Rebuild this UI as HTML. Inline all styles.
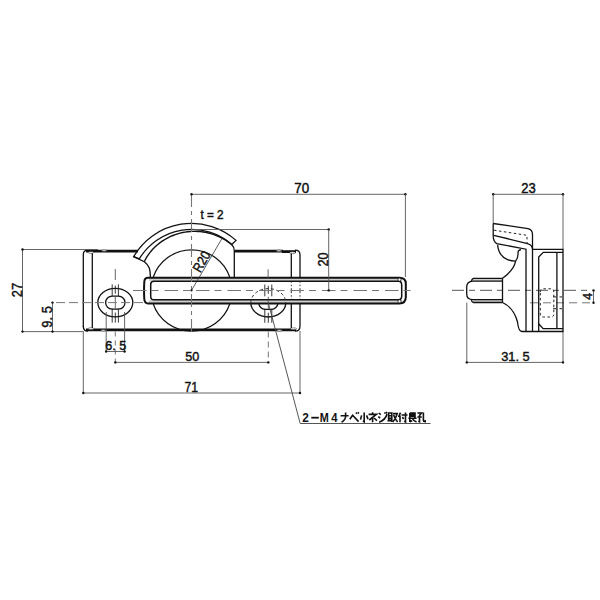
<!DOCTYPE html>
<html><head><meta charset="utf-8"><style>html,body{margin:0;padding:0;background:#fff;width:600px;height:600px;overflow:hidden}svg{display:block}</style></head>
<body><svg width="600" height="600" viewBox="0 0 600 600">
<rect width="600" height="600" fill="#fff"/>
<path d="M83.3,327 V254.5 Q83.3,250.2 88,250.2" stroke="#111" stroke-width="1.3" fill="none"/>
<line x1="86" y1="251.1" x2="137.8" y2="251.1" stroke="#111" stroke-width="2.8" fill="none"/>
<line x1="234.3" y1="251.2" x2="283" y2="251.2" stroke="#111" stroke-width="2.8" fill="none"/>
<line x1="282" y1="251.6" x2="296" y2="251.6" stroke="#111" stroke-width="2.8" fill="none"/>
<path d="M295,250.2 Q300,250.2 300,255 V277.7" stroke="#111" stroke-width="1.3" fill="none"/>
<path d="M83.3,326 Q83.3,331.2 88,331.2" stroke="#111" stroke-width="1.3" fill="none"/>
<line x1="86" y1="329.9" x2="296" y2="329.9" stroke="#111" stroke-width="2.8" fill="none"/>
<path d="M295,331.2 Q300,331.2 300,326 V303.4" stroke="#111" stroke-width="1.3" fill="none"/>
<line x1="92.3" y1="252.5" x2="92.3" y2="328.5" stroke="#111" stroke-width="1.3" fill="none"/>
<line x1="291.3" y1="252.5" x2="291.3" y2="277.7" stroke="#111" stroke-width="1.3" fill="none"/>
<line x1="291.3" y1="303.4" x2="291.3" y2="328.5" stroke="#111" stroke-width="1.3" fill="none"/>
<line x1="300" y1="277.7" x2="300" y2="303.4" stroke="#333" stroke-width="1" stroke-dasharray="5 2 1.5 2"/>
<line x1="291.3" y1="277.7" x2="291.3" y2="303.4" stroke="#333" stroke-width="1" stroke-dasharray="5 2 1.5 2"/>
<ellipse cx="104.2" cy="250.8" rx="2.8" ry="0.8" fill="#fff" stroke="#111" stroke-width="0.5"/>
<ellipse cx="91" cy="252.4" rx="2.9" ry="0.95" fill="#fff" stroke="#111" stroke-width="0.5"/>
<ellipse cx="103.3" cy="330.2" rx="2.6" ry="0.8" fill="#fff" stroke="#111" stroke-width="0.5"/>
<ellipse cx="91" cy="328.7" rx="2.9" ry="0.95" fill="#fff" stroke="#111" stroke-width="0.5"/>
<ellipse cx="279" cy="250.9" rx="3" ry="0.8" fill="#fff" stroke="#111" stroke-width="0.5"/>
<ellipse cx="292.5" cy="252.7" rx="3" ry="0.95" fill="#fff" stroke="#111" stroke-width="0.5"/>
<ellipse cx="279.3" cy="330.3" rx="3" ry="0.8" fill="#fff" stroke="#111" stroke-width="0.5"/>
<ellipse cx="293.5" cy="328.8" rx="3.2" ry="0.95" fill="#fff" stroke="#111" stroke-width="0.5"/>
<path d="M133.65,256.6 A67,67 0 0 1 236.07,240.38 L231.68,244.5 A61,61 0 0 0 139.27,258.89 Z" stroke="#111" stroke-width="1.3" fill="none"/>
<path d="M144.33,261.72 L145.38,259.53 L146.58,257.41 L147.91,255.36 L149.33,253.37 L150.86,251.44 L152.47,249.58 L154.18,247.8 L155.97,246.08 L157.84,244.45 L159.79,242.9 L161.81,241.43 L163.9,240.05 L166.06,238.77 L168.27,237.58 L170.55,236.48 L172.87,235.49 L175.24,234.59 L177.66,233.81 L180.11,233.12 L182.6,232.55 L185.11,232.09 L187.65,231.73 L190.21,231.49 L192.78,231.36 L195.36,231.34 L197.94,231.44 L200.52,231.65 L203.1,231.98 L205.66,232.42 L208.21,232.97 L210.74,233.64 L213.24,234.42 L215.7,235.31 L218.13,236.31 L220.52,237.42 L222.87,238.63 L225.16,239.95 L227.39,241.37 L229.57,242.89 L231.68,244.5" stroke="#111" stroke-width="1.4" fill="none"/>
<path d="M133.65,256.6 L144.33,261.72 Q148.2,264.6 149.4,268.2 Q150.4,271.5 150.4,277.7" stroke="#111" stroke-width="1.3" fill="none"/>
<path d="M231.68,244.5 Q234.3,247 234.3,251 V277.7" stroke="#111" stroke-width="1.3" fill="none"/>
<path d="M153.04,277.7 A40.5,40.5 0 0 1 229.96,277.7" stroke="#111" stroke-width="1.3" fill="none"/>
<path d="M153.04,303.4 A40.5,40.5 0 0 0 229.96,303.4" stroke="#111" stroke-width="1.3" fill="none"/>
<line x1="149" y1="279.5" x2="402" y2="279.5" stroke="#cfcfcf" stroke-width="3"/>
<line x1="149" y1="301.6" x2="402" y2="301.6" stroke="#cfcfcf" stroke-width="3"/>
<path d="M148,277.7 H399.5 Q405.8,277.7 405.8,283.5 V297.3 Q405.8,303.4 399.5,303.4 H148 Q144.5,303.4 144.3,299 Q143.8,290.4 144.3,281.8 Q144.5,277.7 148,277.7 Z" stroke="#111" stroke-width="2.0" fill="none"/>
<path d="M154,281.3 H398.5 Q401.7,281.3 401.7,285 V296 Q401.7,299.8 398.5,299.8 H154 Q150.7,299.8 150.7,296.5 V284.4 Q150.7,281.3 154,281.3 Z" stroke="#111" stroke-width="1.5" fill="none"/>
<circle cx="399.5" cy="279.6" r="1.6" fill="#fff" stroke="#111" stroke-width="0.8"/>
<circle cx="399.5" cy="301.3" r="1.6" fill="#fff" stroke="#111" stroke-width="0.8"/>
<ellipse cx="115.3" cy="302.6" rx="17.5" ry="14.2" stroke="#111" stroke-width="1.3" fill="none"/>
<path d="M112.1,296.1 H118.5 A6.5,6.5 0 0 1 118.5,309.1 H112.1 A6.5,6.5 0 0 1 112.1,296.1 Z" stroke="#111" stroke-width="1.3" fill="none"/>
<line x1="112.2" y1="284.3" x2="112.2" y2="296.1" stroke="#222" stroke-width="0.9"/>
<line x1="112.2" y1="308.6" x2="112.2" y2="322.6" stroke="#222" stroke-width="0.9"/>
<line x1="118.4" y1="284.3" x2="118.4" y2="296.1" stroke="#222" stroke-width="0.9"/>
<line x1="118.4" y1="308.6" x2="118.4" y2="322.6" stroke="#222" stroke-width="0.9"/>
<line x1="115.3" y1="285.6" x2="115.3" y2="293.6" stroke="#222" stroke-width="0.9"/>
<line x1="115.3" y1="312.6" x2="115.3" y2="322.6" stroke="#222" stroke-width="0.9"/>
<line x1="115.3" y1="296.6" x2="115.3" y2="308.6" stroke="#444" stroke-width="0.8"/>
<path d="M250.8,302.8 A17.5,14.2 0 0 0 285.8,302.8" stroke="#111" stroke-width="1.3" fill="none"/>
<path d="M250.8,302.8 A17.5,14.2 0 0 1 285.8,302.8" stroke="#333" stroke-width="1" fill="none" stroke-dasharray="3 2.5"/>
<path d="M258.7,303.3 A6.5,6.5 0 0 0 265.1,309.3 H271.5 A6.5,6.5 0 0 0 277.9,303.3" stroke="#111" stroke-width="1.3" fill="none"/>
<line x1="264.8" y1="284.5" x2="264.8" y2="296.3" stroke="#222" stroke-width="0.9"/>
<line x1="264.8" y1="308.8" x2="264.8" y2="322.8" stroke="#222" stroke-width="0.9"/>
<line x1="271.8" y1="284.5" x2="271.8" y2="296.3" stroke="#222" stroke-width="0.9"/>
<line x1="271.8" y1="308.8" x2="271.8" y2="322.8" stroke="#222" stroke-width="0.9"/>
<line x1="268.3" y1="285.8" x2="268.3" y2="293.8" stroke="#222" stroke-width="0.9"/>
<line x1="268.3" y1="312.8" x2="268.3" y2="322.8" stroke="#222" stroke-width="0.9"/>
<line x1="268.3" y1="296.8" x2="268.3" y2="308.8" stroke="#444" stroke-width="0.8"/>
<line x1="56" y1="302.6" x2="148" y2="302.6" stroke="#777" stroke-width="1" fill="none" stroke-dasharray="9 4"/>
<line x1="132" y1="290.5" x2="416" y2="290.5" stroke="#777" stroke-width="1.1" fill="none" stroke-dasharray="13.5 5 7 6" stroke-dashoffset="-1"/>
<line x1="191.5" y1="194" x2="191.5" y2="336" stroke="#777" stroke-width="1.1" fill="none" stroke-dasharray="13 4 4 4"/>
<line x1="115.3" y1="269" x2="115.3" y2="280" stroke="#555" stroke-width="0.9"/>
<line x1="268.1" y1="269.3" x2="268.1" y2="278" stroke="#555" stroke-width="0.9"/>
<line x1="115.3" y1="331.5" x2="115.3" y2="362.4" stroke="#666" stroke-width="0.9" stroke-dasharray="5 4"/>
<line x1="268.3" y1="331.5" x2="268.3" y2="362.4" stroke="#666" stroke-width="0.9" stroke-dasharray="6 4"/>
<line x1="191.5" y1="194.3" x2="405.4" y2="194.3" stroke="#555" stroke-width="0.9" fill="none"/>
<circle cx="191.5" cy="194.3" r="1.2" fill="#111"/>
<circle cx="405.4" cy="194.3" r="1.2" fill="#111"/>
<line x1="405.4" y1="194.3" x2="405.4" y2="277" stroke="#555" stroke-width="0.9" fill="none"/>
<line x1="191.5" y1="229.5" x2="328.7" y2="229.5" stroke="#555" stroke-width="0.9" fill="none"/>
<circle cx="328.7" cy="229.5" r="1.2" fill="#111"/>
<line x1="328.7" y1="229.5" x2="328.7" y2="290.4" stroke="#555" stroke-width="0.9" fill="none"/>
<circle cx="328.7" cy="290.4" r="1.2" fill="#111"/>
<line x1="22.5" y1="249.5" x2="98" y2="249.5" stroke="#555" stroke-width="0.9" fill="none"/>
<line x1="22.5" y1="331.6" x2="83" y2="331.6" stroke="#555" stroke-width="0.9" fill="none"/>
<line x1="22.5" y1="249.5" x2="22.5" y2="331.6" stroke="#555" stroke-width="0.9" fill="none"/>
<circle cx="22.5" cy="249.5" r="1.2" fill="#111"/>
<circle cx="22.5" cy="331.6" r="1.2" fill="#111"/>
<line x1="52.5" y1="302.6" x2="52.5" y2="331.6" stroke="#555" stroke-width="0.9" fill="none"/>
<circle cx="52.5" cy="302.6" r="1.2" fill="#111"/>
<circle cx="52.5" cy="331.6" r="1.2" fill="#111"/>
<line x1="106.2" y1="312" x2="106.2" y2="351.5" stroke="#555" stroke-width="0.9" fill="none"/>
<line x1="124.6" y1="312" x2="124.6" y2="351.5" stroke="#555" stroke-width="0.9" fill="none"/>
<line x1="106.2" y1="351.5" x2="124.6" y2="351.5" stroke="#555" stroke-width="0.9" fill="none"/>
<circle cx="106.2" cy="351.5" r="1.2" fill="#111"/>
<circle cx="124.6" cy="351.5" r="1.2" fill="#111"/>
<line x1="115.3" y1="362.4" x2="268.3" y2="362.4" stroke="#555" stroke-width="0.9" fill="none"/>
<circle cx="115.3" cy="362.4" r="1.2" fill="#111"/>
<circle cx="268.3" cy="362.4" r="1.2" fill="#111"/>
<line x1="83.3" y1="331" x2="83.3" y2="393" stroke="#555" stroke-width="0.9" fill="none"/>
<line x1="300" y1="331" x2="300" y2="393" stroke="#555" stroke-width="0.9" fill="none"/>
<line x1="83.3" y1="393" x2="300" y2="393" stroke="#555" stroke-width="0.9" fill="none"/>
<circle cx="83.3" cy="393" r="1.2" fill="#111"/>
<circle cx="300" cy="393" r="1.2" fill="#111"/>
<line x1="191.5" y1="290.4" x2="222.37" y2="237.79" stroke="#333" stroke-width="0.8"/>
<circle cx="191.5" cy="290.4" r="1.1" fill="#111"/>
<line x1="268.3" y1="302.8" x2="300.2" y2="423.5" stroke="#444" stroke-width="0.9"/>
<line x1="300.2" y1="423.5" x2="430.6" y2="423.5" stroke="#555" stroke-width="1"/>
<line x1="493.2" y1="194.3" x2="563" y2="194.3" stroke="#555" stroke-width="0.9" fill="none"/>
<circle cx="493.2" cy="194.3" r="1.2" fill="#111"/>
<circle cx="563" cy="194.3" r="1.2" fill="#111"/>
<line x1="493.2" y1="194.3" x2="493.2" y2="223.5" stroke="#555" stroke-width="0.9" fill="none"/>
<line x1="563" y1="194.3" x2="563" y2="249.4" stroke="#555" stroke-width="0.9" fill="none"/>
<line x1="466.8" y1="302.6" x2="466.8" y2="362.4" stroke="#555" stroke-width="0.9" fill="none"/>
<line x1="563" y1="331.5" x2="563" y2="362.4" stroke="#555" stroke-width="0.9" fill="none"/>
<line x1="466.8" y1="362.4" x2="563" y2="362.4" stroke="#555" stroke-width="0.9" fill="none"/>
<circle cx="466.8" cy="362.4" r="1.2" fill="#111"/>
<circle cx="563" cy="362.4" r="1.2" fill="#111"/>
<line x1="593.5" y1="290.4" x2="593.5" y2="302.8" stroke="#555" stroke-width="0.9" fill="none"/>
<circle cx="593.5" cy="290.4" r="1.2" fill="#111"/>
<circle cx="593.5" cy="302.8" r="1.2" fill="#111"/>
<line x1="452" y1="290.4" x2="590" y2="290.4" stroke="#777" stroke-width="1.1" fill="none" stroke-dasharray="12 5 6 5"/>
<line x1="530" y1="302.8" x2="590" y2="302.8" stroke="#777" stroke-width="1" fill="none" stroke-dasharray="8 5"/>
<path d="M493.2,223.5 L528,228.6 Q532.5,229.6 532.5,234.5 V331.5" stroke="#111" stroke-width="1.3" fill="none"/>
<path d="M493.2,223.5 V236 Q493.3,241.5 496.8,243.6 L526,249.2 V331.5" stroke="#111" stroke-width="1.3" fill="none"/>
<path d="M493.8,235.3 L527.5,243.6 Q532.3,245 532.5,249" stroke="#111" stroke-width="1.3" fill="none"/>
<path d="M494,230.2 L527,235.3 V244" stroke="#222" stroke-width="1" fill="none" stroke-dasharray="2.5 2.5"/>
<path d="M497.6,244.8 Q498.5,256 507.6,259.6 Q511,261.2 515.6,261.2 Q518.3,258 518,252.5 Q518.2,250 521,249.7" stroke="#111" stroke-width="1.3" fill="none"/>
<path d="M515.6,261.2 Q514,270 502.5,278.3" stroke="#111" stroke-width="1.3" fill="none"/>
<line x1="473" y1="279.75" x2="502" y2="279.75" stroke="#cfcfcf" stroke-width="2.6"/>
<line x1="473" y1="301.05" x2="502" y2="301.05" stroke="#cfcfcf" stroke-width="2.6"/>
<path d="M502.5,278.3 H473.3 Q471.8,279 471.3,281.2" stroke="#111" stroke-width="1.3" fill="none"/>
<path d="M502.5,281.2 H473 Q466.7,281.5 466.7,287 V294 Q466.7,299.6 473,299.6 H502.5" stroke="#111" stroke-width="1.3" fill="none"/>
<path d="M471.3,299.6 Q471.8,302.3 473.3,302.5 H502.5" stroke="#111" stroke-width="1.3" fill="none"/>
<line x1="502.5" y1="278.3" x2="502.5" y2="302.5" stroke="#111" stroke-width="1.3" fill="none"/>
<path d="M502.5,302.5 Q514,308 517.5,322 Q518.5,331.5 522,331.5 H563 V249.4 H532.5" stroke="#111" stroke-width="1.3" fill="none"/>
<path d="M538.7,331.5 V323.8 L543.1,328.7 H563" stroke="#111" stroke-width="1.3" fill="none"/>
<path d="M538.7,323.8 V257 L543.3,252.3 H563" stroke="#111" stroke-width="1.3" fill="none"/>
<line x1="556.9" y1="252.3" x2="556.9" y2="328.7" stroke="#111" stroke-width="1.3" fill="none"/>
<path d="M540.3,292 Q540.3,288.8 543.3,288.8 H551 Q553.8,288.8 553.8,292 V314 Q553.8,317 551,317 H543.3 Q540.3,317 540.3,314 Z" stroke="#222" stroke-width="1" fill="none" stroke-dasharray="2.5 2.5"/>
<line x1="553" y1="296.9" x2="556" y2="296.9" stroke="#222" stroke-width="1"/>
<line x1="559.5" y1="296.9" x2="562" y2="296.9" stroke="#222" stroke-width="1"/>
<line x1="553" y1="308.7" x2="556" y2="308.7" stroke="#222" stroke-width="1"/>
<line x1="559.5" y1="308.7" x2="562" y2="308.7" stroke="#222" stroke-width="1"/>
<text transform="translate(294.33,192.86) scale(0.954,1)" font-size="14.08" font-family="Liberation Sans, sans-serif" font-weight="normal" fill="#111" stroke="#111" stroke-width="0.45">70</text>
<text transform="translate(521.35,192.86) scale(0.926,1)" font-size="14.08" font-family="Liberation Sans, sans-serif" font-weight="normal" fill="#111" stroke="#111" stroke-width="0.45">23</text>
<text transform="translate(200.47,219.17) scale(0.926,1)" font-size="12.68" font-family="Liberation Sans, sans-serif" font-weight="normal" fill="#111" stroke="#111" stroke-width="0.45">t = 2</text>
<text transform="translate(184.39,391.7) scale(0.840,1)" font-size="14.49" font-family="Liberation Sans, sans-serif" font-weight="normal" fill="#111" stroke="#111" stroke-width="0.45">71</text>
<text transform="translate(185.2,360.86) scale(0.924,1)" font-size="13.66" font-family="Liberation Sans, sans-serif" font-weight="normal" fill="#111" stroke="#111" stroke-width="0.45">50</text>
<text transform="translate(105.17,349.87) scale(0.977,1)" font-size="12.96" font-family="Liberation Sans, sans-serif" font-weight="normal" fill="#111" stroke="#111" stroke-width="0.45">6. 5</text>
<text transform="translate(501.19,360.67) scale(0.955,1)" font-size="13.45" font-family="Liberation Sans, sans-serif" font-weight="normal" fill="#111" stroke="#111" stroke-width="0.45">31. 5</text>
<text transform="translate(21.5,297.14) rotate(-90) scale(0.858,1)" font-size="15.00" font-family="Liberation Sans, sans-serif" font-weight="normal" fill="#111" stroke="#111" stroke-width="0.45">27</text>
<text transform="translate(51.86,327.65) rotate(-90) scale(0.921,1)" font-size="14.08" font-family="Liberation Sans, sans-serif" font-weight="normal" fill="#111" stroke="#111" stroke-width="0.45">9. 5</text>
<text transform="translate(327.61,266.38) rotate(-90) scale(0.910,1)" font-size="13.73" font-family="Liberation Sans, sans-serif" font-weight="normal" fill="#111" stroke="#111" stroke-width="0.45">20</text>
<text transform="translate(591.88,299.75) rotate(-90) scale(0.952,1)" font-size="12.87" font-family="Liberation Sans, sans-serif" font-weight="normal" fill="#111" stroke="#111" stroke-width="0.45">4</text>
<text transform="translate(200.3,273.2) rotate(-60.5) scale(0.86,1)" font-size="13.6" font-family="Liberation Sans, sans-serif" stroke="#111" stroke-width="0.45" fill="#111">R20</text>

<text transform="translate(302.34,421.8) scale(0.901,1)" font-size="13.14" font-family="Liberation Sans, sans-serif" font-weight="bold" fill="#111" >2</text>
<line x1="311.3" y1="417.7" x2="318.8" y2="417.7" stroke="#111" stroke-width="1.8"/>
<text transform="translate(319.84,421.8) scale(0.814,1)" font-size="13.33" font-family="Liberation Sans, sans-serif" font-weight="bold" fill="#111" >M</text>
<text transform="translate(331.17,421.8) scale(0.849,1)" font-size="13.33" font-family="Liberation Sans, sans-serif" font-weight="bold" fill="#111" >4</text>
<g stroke="#111" stroke-width="1.6" fill="none" stroke-linecap="butt">
<path d="M340.6,415.8 H348.6 M345.6,412.4 V416.5 Q345.4,420 341.6,422.2"/>
<path d="M349.8,419.2 L352.6,415.2 L358.6,421.6 M356,412.6 L356.9,413.8 M357.9,412.2 L358.8,413.4"/>
<path d="M364.2,412.4 V421.8 L362.9,421 M361.6,415.4 L360.5,419.6 M366.6,415.4 L368,419.2"/>
<path d="M372.6,412.2 V413.8 M368.6,414.4 H376.4 L369.2,420 M372.6,417.6 V422.2 M374,418 L377,420.6"/>
<path d="M378.8,413.2 L380.8,414.6 M378.2,416.6 L380.2,418 M387,414 Q385.6,419.8 379.2,422.2 M384.6,412.4 L385.3,413.7 M386.2,412 L386.9,413.3"/>
<path d="M387.8,413 H392.6 M388.6,413 V421 M391.8,413 V422 M388.6,415.8 H391.8 M388.6,418.4 H391.8 M387.5,421 L392,420 M393,413.6 H397.2 Q396,418.5 392.8,422 M393.6,415 Q395,419 397.6,422"/>
<path d="M400.5,412.6 L398.5,417 M400,415.5 V422.2 M401.5,415 H407.5 M405.5,412.6 V422 L404.2,421.3 M402.4,417 L403.6,419"/>
<path d="M409.8,413 H415 V418 M409.8,413 V422 M409.8,414.6 H415 M409.8,416.3 H415 M408.4,418.2 H416.6 M409.8,421.8 L412.2,420.8 M412.4,418.5 Q413.5,421 416.6,422"/>
<path d="M417.4,413 H421.5 L419.5,415.5 V421.8 L418.3,421.3 M417.4,417 H421.8 M423.4,412.5 V420.8 Q423.4,421.8 425.2,421.8 V420"/>
</g>

</svg></body></html>
